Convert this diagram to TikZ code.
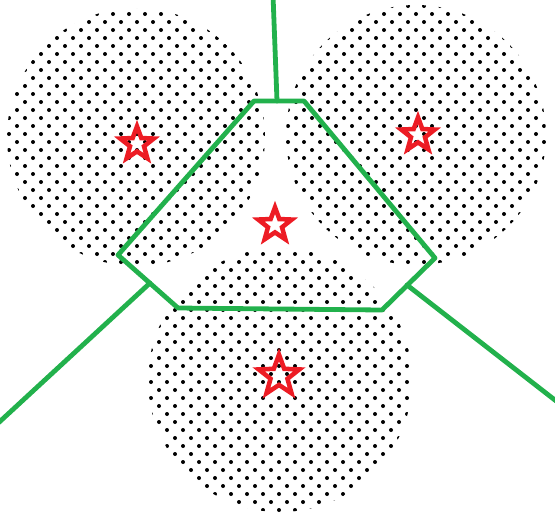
\documentclass[tikz,border=0pt]{standalone}
\usetikzlibrary{shapes.geometric}
\definecolor{pgreen}{RGB}{34,177,76}
\definecolor{pred}{RGB}{237,28,36}
\tikzset{
  edge/.style={draw=pgreen,line width=3.6pt,line cap=round,line join=round},
  redstar/.style={star,star points=5,star point ratio=2.4,draw=pred,line width=3.4pt,inner sep=0pt,outer sep=0pt},
  dot/.style={fill=black}
}
\begin{document}
\begin{tikzpicture}[x=0.75pt,y=-0.75pt]
\useasboundingbox (0,0) rectangle (555,519);
% dotted discs
\begin{scope}
  \clip (136,137) circle (96.75pt);
  \foreach \r in {0,...,33}{\foreach \c in {0,...,16}{
    \fill[dot] ({9+16*\c+8*mod(\r,2)},{6+8*\r}) circle (1.5pt);}}
\end{scope}
\begin{scope}
  \clip (416,135) circle (97.5pt);
  \foreach \r in {0,...,33}{\foreach \c in {17,...,34}{
    \fill[dot] ({8+16*\c+8*mod(\r,2)},{6+8*\r}) circle (1.5pt);}}
\end{scope}
\begin{scope}
  \clip (280,380) circle (99pt);
  \foreach \r in {30,...,64}{\foreach \c in {7,...,25}{
    \fill[dot] ({15+16*\c+8*mod(\r,2)},{6+8*\r}) circle (1.5pt);}}
\end{scope}
% green lines
\coordinate (t0) at (273,-5);
\coordinate (tm) at (277,101);
\coordinate (h1) at (254,101);
\coordinate (h2) at (304,101);
\coordinate (h3) at (435,258);
\coordinate (h4) at (382,310);
\coordinate (h5) at (178,308);
\coordinate (h6) at (118,255);
\coordinate (jl) at (150,283);
\coordinate (jr) at (407,285);
\coordinate (el) at (-5,426);
\coordinate (er) at (560,404);
\draw[edge] (h1) -- (h2) -- (h3) -- (h4) -- (h5) -- (h6) -- cycle;
\draw[edge] (t0) -- (tm);
\draw[edge] (jl) -- (el);
\draw[edge] (jr) -- (er);
% stars
\node[redstar,minimum size=26.5pt] (s1) at (137,144) {};
\node[redstar,minimum size=26.5pt] (s2) at (418,135) {};
\node[redstar,minimum size=26.5pt] (s3) at (275,225) {};
\node[redstar,minimum size=32pt] (s4) at (279,376) {};
\end{tikzpicture}
\end{document}
